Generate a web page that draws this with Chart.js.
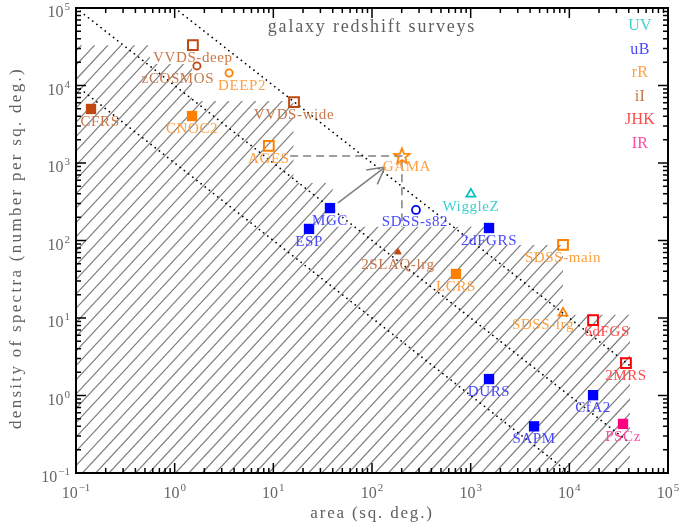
<!DOCTYPE html>
<html>
<head>
<meta charset="utf-8">
<script src="https://cdn.jsdelivr.net/npm/chart.js@4.4.0/dist/chart.umd.min.js"></script>
<style>
  html, body { margin: 0; padding: 0; background: #fff; }
  #wrap { width: 681px; height: 527px; position: relative; }
</style>
</head>
<body>
<div id="wrap"><canvas id="c_chart"></canvas></div>
<script>
// survey values (area in sq. deg., density in spectra per sq. deg.)
let surveyNames = ['CFRS', 'VVDS-deep', 'zCOSMOS', 'DEEP2', 'CNOC2', 'VVDS-wide', 'AGES', 'GAMA',
  'MGC', 'ESP', 'SDSS-s82', 'WiggleZ', '2dFGRS', '2SLAQ-lrg', 'LCRS', 'SDSS-main', 'SDSS-lrg',
  '6dFGS', '2MRS', 'DURS', 'CfA2', 'SAPM', 'PSCz'];
let surveyArea = [0.142, 1.53, 1.68, 3.56, 1.5, 16.2, 9.0, 201,
  37.5, 23, 279, 1006, 1535, 183, 710, 8630, 8630,
  17400, 37500, 1535, 17400, 4390, 35000];
let surveyDensity = [4980, 33300, 17900, 14500, 4040, 6120, 1660, 1230,
  262, 141, 248, 398, 145, 71, 37, 87.5, 11.6,
  9.4, 2.62, 1.63, 1.01, 0.40, 0.43];
let surveyBand = ['iI', 'iI', 'iI', 'rR', 'rR', 'iI', 'rR', 'rR',
  'uB', 'uB', 'uB', 'UV', 'uB', 'iI', 'rR', 'rR', 'rR',
  'JHK', 'JHK', 'uB', 'uB', 'uB', 'IR'];

let bandNames = ['UV', 'uB', 'rR', 'iI', 'JHK', 'IR'];

// tick labels
let xTickValues = [0.1, 1, 10, 100, 1e3, 1e4, 1e5];
let xTickExp = ['\u22121', '0', '1', '2', '3', '4', '5'];
let yTickValues = [0.1, 1, 10, 100, 1e3, 1e4, 1e5];
let yTickExp = ['\u22121', '0', '1', '2', '3', '4', '5'];

// lines of constant number of spectra (1e3, 1e4, 1e5), ending at the full sky
let dotLinesX = [[0.1, 1e4], [0.1, 41253], [1, 41253]];
let dotLinesY = [[1e4, 0.1], [1e5, 0.2424], [1e5, 2.424]];

// hatched region (staircase outline)
let hatchX = [0.1, 0.56, 0.56, 1.5, 1.5, 16, 16, 40, 40, 1535, 1535, 8630, 8630, 41253, 41253, 0.1];
let hatchY = [33000, 33000, 19000, 19000, 6300, 6300, 550, 550, 150, 150, 87.5, 87.5, 11, 11, 0.1, 0.1];

// gama guide lines and arrow
let gamaDashX = [14.8, 201, 201];
let gamaDashY = [1230, 1230, 149];
let arrowX = [45.2, 135.5];
let arrowY = [305, 887];

// ---- styles ----
let bandMarkerColor = { UV: '#00c0c0', uB: '#0000ff', rR: '#ff8000', iI: '#c04810', JHK: '#ff0000', IR: '#ff0080' };
let bandTextColor = { UV: '#40d0d0', uB: '#4848ff', rR: '#ffa040', iI: '#c87848', JHK: '#ff4848', IR: '#ff48a0' };
let markerOf = {
  'CFRS': 'fsquare', 'VVDS-deep': 'square', 'zCOSMOS': 'circle', 'DEEP2': 'circle', 'CNOC2': 'fsquare',
  'VVDS-wide': 'square', 'AGES': 'square', 'GAMA': 'star', 'MGC': 'fsquare', 'ESP': 'fsquare',
  'SDSS-s82': 'circle', 'WiggleZ': 'triangle', '2dFGRS': 'fsquare', '2SLAQ-lrg': 'ftriangle', 'LCRS': 'fsquare',
  'SDSS-main': 'square', 'SDSS-lrg': 'triangle', '6dFGS': 'square', '2MRS': 'square', 'DURS': 'fsquare',
  'CfA2': 'fsquare', 'SAPM': 'fsquare', 'PSCz': 'fsquare'
};
let labelShift = {
  'CFRS': [9, 13], 'zCOSMOS': [-19, 13], 'DEEP2': [13, 13], 'GAMA': [5, 11],
  'SDSS-lrg': [-20, 12], '6dFGS': [14, 12], 'SDSS-s82': [-1, 12]
};
const SERIF = '"Liberation Serif", "DejaVu Serif", serif';

function makeStar(color) {
  let c = document.createElement('canvas');
  c.width = 20; c.height = 20;
  let g = c.getContext('2d');
  g.strokeStyle = color;
  g.lineWidth = 1.7;
  g.beginPath();
  for (let k = 0; k < 10; k++) {
    let r = k % 2 === 0 ? 8.3 : 3.5;
    let a = -Math.PI / 2 + k * Math.PI / 5;
    g.lineTo(10 + r * Math.cos(a), 10.5 + r * Math.sin(a));
  }
  g.closePath();
  g.stroke();
  return c;
}

function pointStyling() {
  let style = [], radius = [], bg = [], border = [], width = [];
  surveyNames.forEach((name, i) => {
    let col = bandMarkerColor[surveyBand[i]];
    let m = markerOf[name];
    if (m === 'fsquare') { style.push('rect'); radius.push(7.3); bg.push(col); border.push(col); width.push(0); }
    else if (m === 'square') { style.push('rect'); radius.push(6.9); bg.push('rgba(0,0,0,0)'); border.push(col); width.push(2); }
    else if (m === 'circle') { style.push('circle'); radius.push(name === 'SDSS-s82' ? 4 : 3.6); bg.push('rgba(0,0,0,0)'); border.push(col); width.push(1.8); }
    else if (m === 'triangle') { style.push('triangle'); radius.push(5.2); bg.push('rgba(0,0,0,0)'); border.push(col); width.push(1.7); }
    else if (m === 'ftriangle') { style.push('triangle'); radius.push(3.8); bg.push(col); border.push(col); width.push(1); }
    else { style.push(makeStar(col)); radius.push(9); bg.push(col); border.push(col); width.push(0); }
  });
  return { style, radius, bg, border, width };
}

function drawPow(ctx, exp, x, y, align) {
  ctx.font = '16px ' + SERIF;
  let w1 = ctx.measureText('10').width;
  ctx.font = '11px ' + SERIF;
  let w2 = ctx.measureText(exp).width;
  let total = w1 + 1 + w2;
  let start = align === 'center' ? x - total / 2 : x - total;
  ctx.textAlign = 'left';
  ctx.textBaseline = 'alphabetic';
  ctx.font = '16px ' + SERIF;
  ctx.fillText('10', start, y);
  ctx.font = '11px ' + SERIF;
  ctx.fillText(exp, start + w1 + 1, y - 7);
}

const hatchPlugin = {
  id: 'hatch',
  beforeDatasetsDraw(chart) {
    let { ctx, chartArea: a, scales: { x, y } } = chart;
    ctx.save();
    ctx.beginPath();
    ctx.rect(a.left, a.top, a.right - a.left, a.bottom - a.top);
    ctx.clip();
    ctx.beginPath();
    hatchX.forEach((v, i) => {
      let px = x.getPixelForValue(v), py = y.getPixelForValue(hatchY[i]);
      if (i) ctx.lineTo(px, py); else ctx.moveTo(px, py);
    });
    ctx.closePath();
    ctx.clip();
    ctx.strokeStyle = '#808080';
    ctx.lineWidth = 1.2;
    let h = a.bottom - a.top, run = h * 0.93;
    ctx.beginPath();
    for (let sx = a.left - run; sx < a.right; sx += 13.3) {
      ctx.moveTo(sx, a.bottom);
      ctx.lineTo(sx + run, a.top);
    }
    ctx.stroke();
    ctx.restore();
  }
};

const decorPlugin = {
  id: 'decor',
  afterDatasetsDraw(chart) {
    let { ctx, chartArea: a, scales: { x, y } } = chart;
    ctx.save();

    // arrow head at the end of the arrow line
    let ax0 = x.getPixelForValue(arrowX[0]), ay0 = y.getPixelForValue(arrowY[0]);
    let ax1 = x.getPixelForValue(arrowX[1]), ay1 = y.getPixelForValue(arrowY[1]);
    let ang = Math.atan2(ay1 - ay0, ax1 - ax0);
    ctx.strokeStyle = '#808080';
    ctx.lineWidth = 1.6;
    ctx.beginPath();
    [0.5, -0.5].forEach(d => {
      ctx.moveTo(ax1, ay1);
      ctx.lineTo(ax1 - 19 * Math.cos(ang + d), ay1 - 19 * Math.sin(ang + d));
    });
    ctx.stroke();

    // survey labels
    let meta = chart.getDatasetMeta(0);
    ctx.font = '15px ' + SERIF;
    ctx.letterSpacing = '0.6px';
    ctx.textAlign = 'center';
    ctx.textBaseline = 'middle';
    surveyNames.forEach((name, i) => {
      let p = meta.data[i];
      let s = labelShift[name] || [0, 13];
      ctx.fillStyle = bandTextColor[surveyBand[i]];
      ctx.fillText(name, p.x + s[0], p.y + s[1]);
    });

    // frame
    ctx.letterSpacing = '0px';
    ctx.strokeStyle = '#000';
    ctx.lineWidth = 2;
    ctx.strokeRect(a.left, a.top, a.right - a.left, a.bottom - a.top);

    // inward ticks, all four sides
    ctx.lineWidth = 1.5;
    ctx.beginPath();
    xTickValues.forEach((d, i) => {
      for (let k = 1; k < 10; k++) {
        if (k > 1 && i === xTickValues.length - 1) break;
        let px = x.getPixelForValue(d * k), len = k === 1 ? 10 : 5;
        ctx.moveTo(px, a.bottom); ctx.lineTo(px, a.bottom - len);
        ctx.moveTo(px, a.top); ctx.lineTo(px, a.top + len);
      }
    });
    yTickValues.forEach((d, i) => {
      for (let k = 1; k < 10; k++) {
        if (k > 1 && i === yTickValues.length - 1) break;
        let py = y.getPixelForValue(d * k), len = k === 1 ? 10 : 5;
        ctx.moveTo(a.left, py); ctx.lineTo(a.left + len, py);
        ctx.moveTo(a.right, py); ctx.lineTo(a.right - len, py);
      }
    });
    ctx.stroke();

    // tick labels
    ctx.fillStyle = '#666';
    xTickValues.forEach((v, i) => drawPow(ctx, xTickExp[i], x.getPixelForValue(v), a.bottom + 25, 'center'));
    yTickValues.forEach((v, i) => drawPow(ctx, yTickExp[i], a.left - 6, y.getPixelForValue(v) + 9, 'right'));

    // axis titles
    ctx.fillStyle = '#606060';
    ctx.textAlign = 'center';
    ctx.textBaseline = 'middle';
    ctx.font = '17px ' + SERIF;
    ctx.letterSpacing = '1.8px';
    ctx.fillText('area (sq. deg.)', (a.left + a.right) / 2, a.bottom + 41);
    ctx.save();
    ctx.translate(17, 248);
    ctx.rotate(-Math.PI / 2);
    ctx.letterSpacing = '2.3px';
    ctx.fillText('density of spectra (number per sq. deg.)', 0, 0);
    ctx.restore();

    // plot title
    ctx.font = '18px ' + SERIF;
    ctx.letterSpacing = '1.8px';
    ctx.fillText('galaxy redshift surveys', (a.left + a.right) / 2, a.top + 19);

    // band legend
    ctx.font = '16px ' + SERIF;
    ctx.letterSpacing = '0.3px';
    bandNames.forEach((b, i) => {
      ctx.fillStyle = bandTextColor[b];
      ctx.fillText(b, a.right - 28, a.top + 18 + 23.5 * i);
    });
    ctx.restore();
  }
};

function lineSet(xs, ys, color, dash, width) {
  return {
    type: 'scatter',
    data: xs.map((v, i) => ({ x: v, y: ys[i] })),
    showLine: true,
    borderColor: color,
    borderWidth: width,
    borderDash: dash,
    borderCapStyle: dash.length && dash[0] < 1 ? 'round' : 'butt',
    pointRadius: 0,
    fill: false,
    order: 5
  };
}

function initPage() {
  let ps = pointStyling();
  let datasets = [{
    type: 'scatter',
    data: surveyArea.map((v, i) => ({ x: v, y: surveyDensity[i] })),
    pointStyle: ps.style,
    pointRadius: ps.radius,
    pointBackgroundColor: ps.bg,
    pointBorderColor: ps.border,
    pointBorderWidth: ps.width,
    order: 0
  }];
  dotLinesX.forEach((xs, i) => datasets.push(lineSet(xs, dotLinesY[i], '#000', [0.1, 5.2], 1.7)));
  datasets.push(lineSet(gamaDashX, gamaDashY, '#808080', [8, 5], 1.5));
  datasets.push(lineSet(arrowX, arrowY, '#808080', [], 1.6));

  new Chart(document.getElementById('c_chart'), {
    type: 'scatter',
    data: { datasets },
    options: {
      responsive: true,
      maintainAspectRatio: false,
      animation: false,
      devicePixelRatio: 1,
      layout: { autoPadding: false, padding: { left: 76, top: 8, right: 13, bottom: 54 } },
      plugins: { legend: { display: false }, tooltip: { enabled: false } },
      scales: {
        x: { type: 'logarithmic', min: 0.1, max: 1e5, display: false },
        y: { type: 'logarithmic', min: 0.1, max: 1e5, display: false }
      }
    },
    plugins: [hatchPlugin, decorPlugin]
  });
}

initPage();
</script>
</body>
</html>
